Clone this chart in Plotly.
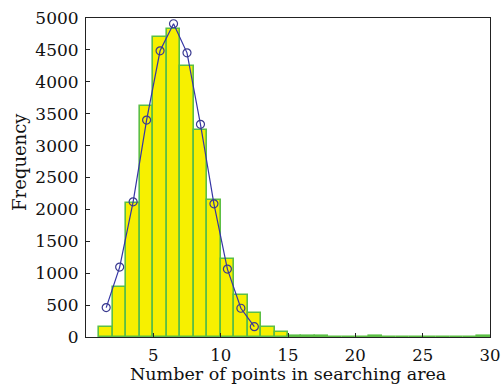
import plotly.graph_objects as go

# Histogram bins (centers) and counts
bin_centers = [i + 0.5 for i in range(1, 30)]
bin_counts = [160, 790, 2100, 3620, 4700, 4830, 4250, 3240, 2140, 1230, 660, 370, 150, 85,
              8, 22, 8, 6, 5, 5, 22, 6, 5, 4, 4, 5, 3, 4, 8]

# Fitted curve points (circles)
fit_x = [1.5, 2.5, 3.5, 4.5, 5.5, 6.5, 7.5, 8.5, 9.5, 10.5, 11.5, 12.5]
fit_y = [461, 1096, 2118, 3400, 4486, 4910, 4454, 3333, 2087, 1064, 451, 162]

x_ticks = [5, 10, 15, 20, 25, 30]
y_ticks = [0, 500, 1000, 1500, 2000, 2500, 3000, 3500, 4000, 4500, 5000]

font_family = "DejaVu Serif"

fig = go.Figure()
fig.add_trace(go.Bar(
    x=bin_centers, y=bin_counts, width=1.0,
    marker=dict(color="#f7f000", line=dict(color="#5cbf45", width=1.6)),
    showlegend=False,
))
fig.add_trace(go.Scatter(
    x=fit_x, y=fit_y, mode="lines+markers",
    line=dict(color="#3535a5", width=1.2),
    marker=dict(symbol="circle-open", size=8, color="#3a3a90", line=dict(width=1.2)),
    showlegend=False,
))

fig.update_layout(
    width=502, height=385,
    margin=dict(l=86, r=12, t=18, b=48),
    plot_bgcolor="white", paper_bgcolor="white",
    font=dict(family=font_family, size=17, color="#111111"),
    bargap=0,
)
fig.update_xaxes(
    range=[0, 30], tickvals=x_ticks, ticks="inside", ticklen=4, tickcolor="#222",
    showline=True, linecolor="#222", linewidth=1, mirror=True, showgrid=False, zeroline=False,
    ticklabelstandoff=3, automargin=False, tickfont=dict(size=16.5),
)
fig.update_yaxes(
    range=[0, 5000], tickvals=y_ticks, ticks="inside", ticklen=4, tickcolor="#222",
    showline=True, linecolor="#222", linewidth=1, mirror=True, showgrid=False, zeroline=False,
    ticklabelstandoff=3, automargin=False,
)
fig.add_annotation(
    text="Number of points in searching area", xref="paper", yref="paper", x=0.5, y=-0.117,
    showarrow=False, font=dict(size=17.5, family=font_family), xanchor="center", yanchor="middle",
    borderpad=0,
)
fig.add_annotation(
    text="Frequency", xref="paper", yref="paper", x=-0.165, y=0.55,
    textangle=-90, showarrow=False, font=dict(size=18, family=font_family), xanchor="center", yanchor="middle",
)

fig.write_html("out.html")
